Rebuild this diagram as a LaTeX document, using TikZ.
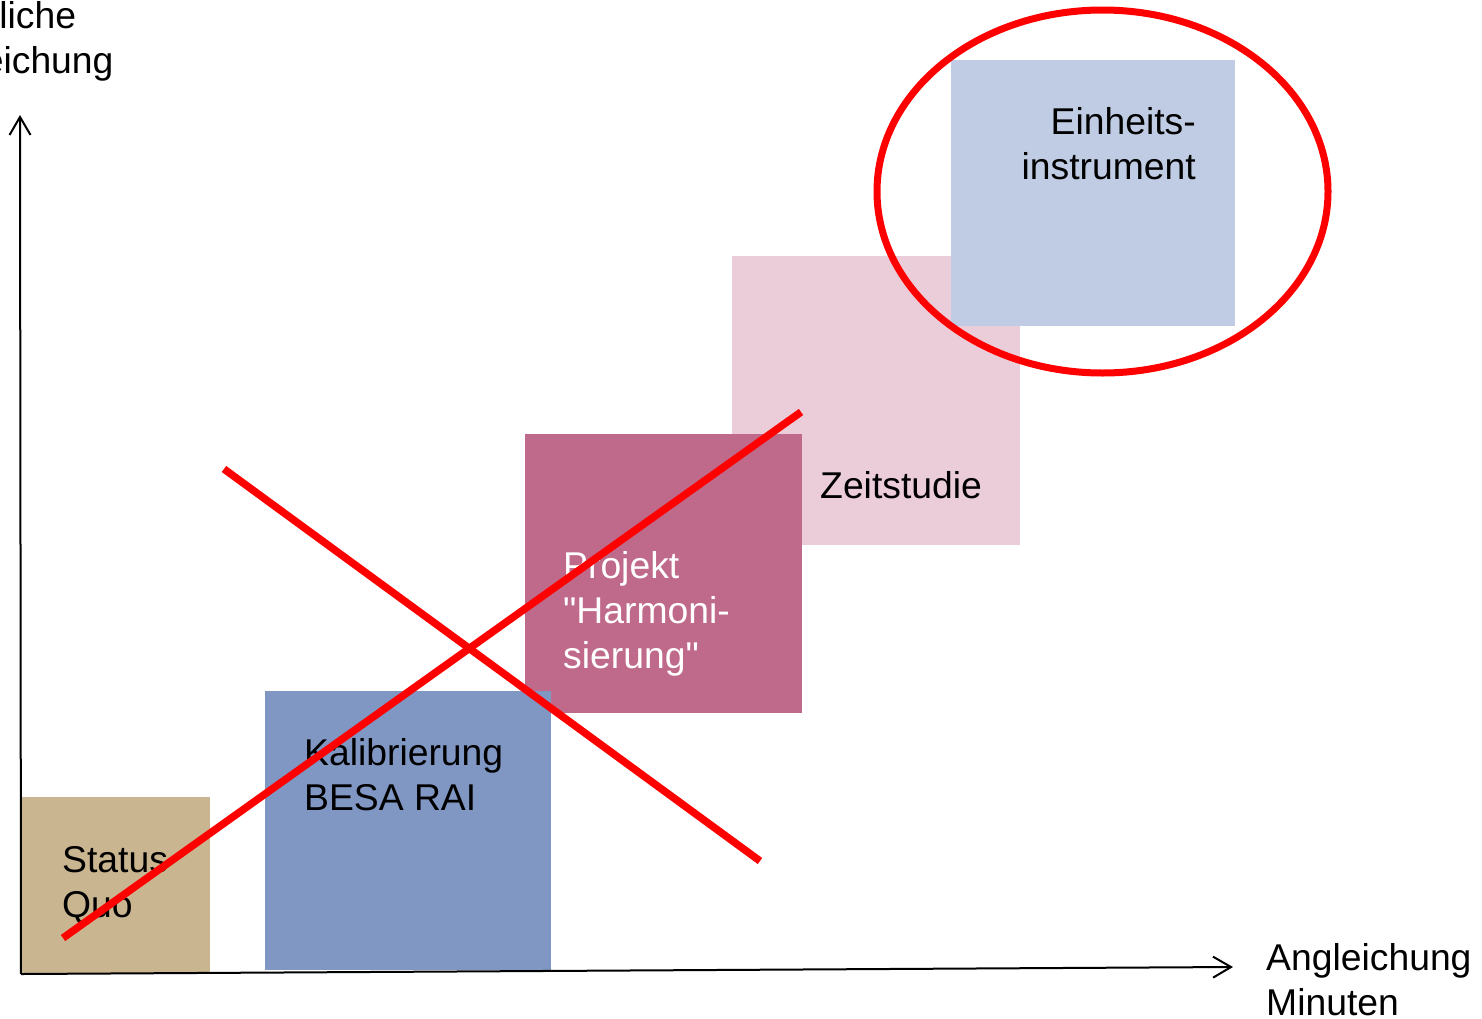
\documentclass[tikz,border=0pt]{standalone}
\usepackage{fontspec}
\setmainfont{Liberation Sans}[Ligatures=TeXOff]
\usetikzlibrary{arrows.meta,shapes.geometric}
\definecolor{tanc}{HTML}{C9B58F}
\definecolor{bluec}{HTML}{8096C3}
\definecolor{darkpink}{HTML}{C06A8B}
\definecolor{lightpink}{HTML}{EBCDD9}
\definecolor{lightblue}{HTML}{C0CCE3}
\definecolor{redc}{HTML}{FF0000}
\tikzset{
  box/.style={draw=none, inner sep=0pt, anchor=north west},
  lbl/.style={inner sep=0pt, anchor=base west, align=left, font=\fontsize{37.3}{45}\selectfont},
  axis/.style={line width=2pt, -{Straight Barb[length=18pt,width=21pt,line width=2pt]}},
  cross/.style={redc, line width=7.5pt},
}
\begin{document}
\begin{tikzpicture}[x=1pt,y=-1pt]
\useasboundingbox (0,0) rectangle (1482,1018);
% boxes
\node[box, fill=lightpink, minimum width=288pt, minimum height=289pt] (zs) at (732,256) {};
\node[box, fill=lightblue, minimum width=284pt, minimum height=266pt] (ei) at (951,60) {};
\node[box, fill=darkpink, minimum width=277pt, minimum height=279pt] (ha) at (525,434) {};
\node[box, fill=bluec, minimum width=286pt, minimum height=279pt] (ka) at (265,691) {};
\node[box, fill=tanc, minimum width=188pt, minimum height=176pt] (sq) at (22,797) {};
% labels (anchor = baseline of the last line)
\node[lbl] (tsq) at (62,917) {Status\\Quo};
\node[lbl] (tka) at (304,810) {Kalibrierung\\BESA RAI};
\node[lbl, text=white] (tha) at (563,668) {Projekt\\"Harmoni-\\sierung"};
\node[lbl] (tzs) at (820,498) {Zeitstudie};
\node[lbl, anchor=base east, align=right] (tei) at (1196,179) {Einheits-\\instrument};
\node[lbl] (tx) at (1266,1015) {Angleichung\\Minuten};
\node[lbl] (ty) at (-92,73) {Inhaltliche\\Angleichung};
% axes
\coordinate (o) at (21,974);
\coordinate (ytop) at (20,115);
\coordinate (xend) at (1233,967);
\draw[axis] (o) -- (ytop);
\draw[axis] (o) -- (xend);
% red marks
\coordinate (c1a) at (63,938);
\coordinate (c1b) at (801,412);
\coordinate (c2a) at (224,469);
\coordinate (c2b) at (760,861);
\draw[cross] (c1a) -- (c1b);
\draw[cross] (c2a) -- (c2b);
\node[draw=redc, line width=7pt, ellipse, minimum width=451pt, minimum height=363pt, inner sep=0pt] (ring) at (1102.5,191.5) {};
\end{tikzpicture}
\end{document}
